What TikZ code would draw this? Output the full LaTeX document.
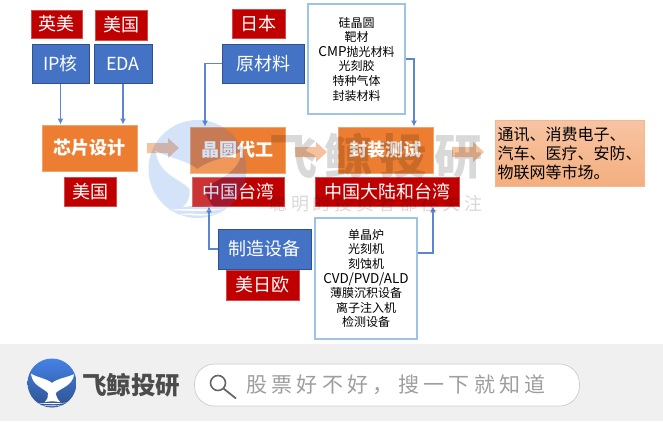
\documentclass[tikz,border=0pt]{standalone}
\usepackage{fontspec}
\usepackage{tikz}
\usetikzlibrary{arrows.meta}
\setmainfont{Noto Sans CJK SC}
\newfontfamily\markfont[LetterSpace=15]{Noto Sans CJK SC}
\newfontfamily\slogfont[LetterSpace=20]{Noto Sans CJK SC}
\newfontfamily\findfont[LetterSpace=20.5]{Noto Sans CJK SC}
\newcommand{\fsize}[1]{\fontsize{#1}{#1}\selectfont}
\newcommand{\wide}[1]{{\fontsize{13.5}{14.6}\selectfont #1}}
\definecolor{chipblue}{HTML}{4472C4}
\definecolor{chipedge}{HTML}{2F528F}
\definecolor{chipred}{HTML}{C00000}
\definecolor{chiporange}{HTML}{ED7D31}
\definecolor{linkblue}{HTML}{5B86D2}
\definecolor{listedge}{HTML}{9DC3E6}
\definecolor{whaleblue}{HTML}{2F75E5}

\tikzset{
    whaletail/.style={insert path={
        (-.86,-.38) .. controls (-.6,-.22) and (-.25,-.2) .. (0,0)
        .. controls (.25,-.2) and (.6,-.22) .. (.9,-.36)
        .. controls (.85,.12) and (.35,.2) .. (.15,.41)
        .. controls (.17,.55) and (.25,.7) .. (.34,.78)
        .. controls (.1,.74) and (-.1,.74) .. (-.3,.78)
        .. controls (-.2,.7) and (-.14,.55) .. (-.16,.41)
        .. controls (-.35,.2) and (-.8,.12) .. (-.86,-.38) -- cycle
        (-.6,.84) .. controls (-.2,.78) and (.2,.86) .. (.6,.8)
        .. controls (.2,.9) and (-.2,.84) .. (-.6,.84) -- cycle
        (-.42,.93) .. controls (-.15,.88) and (.15,.95) .. (.42,.9)
        .. controls (.15,.99) and (-.15,.93) .. (-.42,.93) -- cycle
    }},
    footwhale/.pic={
        \shade[top color=whaleblue!90!white, bottom color=chipedge] (0,0) circle[radius=1];
        \fill[white, whaletail];
    },
    markwhale/.pic={
        \fill[whaleblue, opacity=.2, even odd rule] (0,0) circle[radius=1] [whaletail];
        \fill[white, opacity=.2, whaletail];
    },
    flowarrow/.pic={
        \fill[chiporange!55!white, opacity=.85] (-16,-5) -- (5,-5) -- (5,-10) -- (16,0)
            -- (5,10) -- (5,5) -- (-16,5) -- cycle;
    }
}

\begin{document}
\begin{tikzpicture}[x=1pt,y=-1pt,inner sep=0pt]
    \tikzstyle{redtag}=[fill=chipred,draw=chipred!70!white,line width=.6pt,text=white,font=\fsize{18}]
    \tikzstyle{bluebox}=[fill=chipblue,draw=chipedge,line width=1pt,text=white,font=\fsize{18}]
    \tikzstyle{stagebox}=[fill=chiporange,draw=chiporange!70!white,line width=.8pt,text=white,font=\bfseries\fsize{18}]
    \tikzstyle{listbox}=[fill=white,draw=listedge,line width=1.2pt,align=center,font=\fontsize{12}{14.6}\selectfont]
    \tikzstyle{link}=[-{Latex[length=6pt,width=6pt]},draw=linkblue,line width=1.2pt]

    \useasboundingbox (0,0) rectangle (663,421);
    \fill[white] (0,0) rectangle (663,421);

    % Draw the country tags
    \foreach \name / \cx / \cy / \w / \h / \txt in {tagip/56.5/24/51/28/英美, tageda/121/25/52/30/美国,
            tagmat/258.5/23.5/53/29/日本, tagdes/90/191.5/52/29/美国,
            tagfab/238/191.5/92/29/中国台湾, tagpack/387/191.5/144/29/中国大陆和台湾,
            tagtool/262.5/285/73/30/美日欧}
        \node[redtag,minimum width=\w,minimum height=\h] (\name) at (\cx,\cy) {\txt};

    % Draw the supply boxes
    \foreach \name / \cx / \cy / \w / \h / \txt in {ip/60.5/63.5/57/39/IP核, eda/123/63.5/58/39/EDA,
            material/263/63.5/82/39/原材料, tool/264.5/249/93/40/制造设备}
        \node[bluebox,minimum width=\w,minimum height=\h] (\name) at (\cx,\cy) {\txt};

    % Draw the three stages
    \foreach \name / \cx / \cy / \txt in {design/89.5/148/芯片设计, fab/237.5/150/晶圆代工, pack/385.5/150/封装测试}
        \node[stagebox,minimum width=95,minimum height=46] (\name) at (\cx,\cy) {\txt};

    \node[listbox,minimum width=97,minimum height=110] (matlist) at (356.5,59)
        {硅晶圆\\靶材\\\wide{CMP}抛光材料\\光刻胶\\特种气体\\封装材料};
    \node[listbox,minimum width=102,minimum height=121] (toollist) at (366,278.5)
        {单晶炉\\光刻机\\刻蚀机\\\wide{CVD/PVD/ALD}\\薄膜沉积设备\\离子注入机\\检测设备};

    \node[draw=chiporange!55!white,line width=.8pt,top color=chiporange!45!white,bottom color=chiporange!62!white,
        minimum width=149,minimum height=66,align=left,font=\fontsize{16}{19}\selectfont] (market) at (569.5,153)
        {通讯、消费电子、\\汽车、医疗、安防、\\物联网等市场。};

    % Draw the flow arrows between the stages
    \pic at (163,148) {flowarrow};
    \pic at (311,152) {flowarrow};
    \pic at (468,152) {flowarrow};

    % Draw the feeding lines
    \draw[link] (ip.south) -- (ip.south |- design.north);
    \draw[link] (eda.south) -- (eda.south |- design.north);
    \draw[link] (material.west) -| ([xshift=-32.5]fab.north);
    \draw[link] (matlist.east) -| ([xshift=28.5]pack.north);
    \draw[link] (tool.west) -| ([xshift=-29]tagfab.south);
    \draw[link] ([yshift=25.5]toollist.east) -| ([xshift=46]tagpack.south);

    % Draw the faint mark over the chart
    \pic[scale=49] at (197.5,169) {markwhale};
    \node[text=black,opacity=.15,font=\markfont\bfseries\fsize{48}] (markname) at (376,156) {飞鲸投研};
    \node[text=black,opacity=.15,font=\slogfont\fsize{18}] (markslogan) at (376,204) {聪明的投资者都在关注};

    % Draw the footer
    \fill[black!6] (0,344) rectangle (663,421);
    \pic[scale=24.5] at (52,383) {footwhale};
    \node[text=black!70,font=\bfseries\fsize{24.5}] (footname) at (131,385) {飞鲸投研};
    \node[fill=white,draw=black!20,line width=.7pt,rounded corners=20pt,minimum width=385,minimum height=42] (findbar) at (387,385) {};
    \draw[black!60,line width=1.6pt] (218,383) circle[radius=7.5];
    \draw[black!60,line width=1.8pt] (223.5,388.5) -- (236,398.5);
    \node[text=black!38,font=\findfont\fsize{21}] (findtext) at (396,385) {股票好不好，搜一下就知道};
\end{tikzpicture}
\end{document}
